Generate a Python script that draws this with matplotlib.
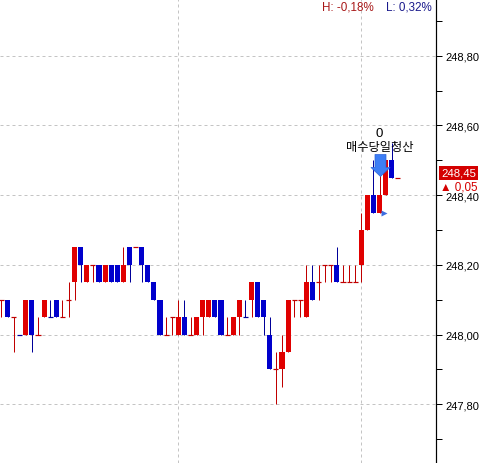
import matplotlib
matplotlib.use("Agg")
import matplotlib.pyplot as plt
import numpy as np
from matplotlib.path import Path

# ---------------- data ----------------
opens = [248.10, 248.10, 248.05, 248.00, 248.00, 248.10, 248.00, 248.05, 248.05, 248.10,
         248.05, 248.10, 248.15, 248.25, 248.15, 248.20, 248.20, 248.15, 248.20, 248.20,
         248.15, 248.25, 248.25, 248.25, 248.20, 248.15, 248.10, 248.00, 248.05, 248.00,
         248.05, 248.00, 248.00, 248.05, 248.05, 248.10, 248.10, 248.00, 248.00, 248.05,
         248.05, 248.10, 248.15, 248.10, 248.00, 247.90, 247.90, 247.95, 248.10, 248.10,
         248.05, 248.15, 248.15, 248.20, 248.20, 248.20, 248.15, 248.15, 248.15, 248.20,
         248.30, 248.40, 248.35, 248.40, 248.50, 248.45]
closes = [248.10, 248.05, 248.05, 248.00, 248.10, 248.00, 248.00, 248.10, 248.05, 248.05,
          248.05, 248.10, 248.25, 248.20, 248.20, 248.20, 248.15, 248.20, 248.15, 248.15,
          248.20, 248.20, 248.25, 248.20, 248.15, 248.10, 248.00, 248.00, 248.05, 248.05,
          248.00, 248.00, 248.05, 248.10, 248.10, 248.05, 248.00, 248.00, 248.05, 248.10,
          248.05, 248.15, 248.05, 248.05, 247.90, 247.90, 247.95, 248.10, 248.10, 248.10,
          248.15, 248.10, 248.15, 248.20, 248.20, 248.15, 248.15, 248.15, 248.15, 248.30,
          248.40, 248.35, 248.40, 248.50, 248.45, 248.45]
highs = [248.10, 248.10, 248.05, 248.00, 248.10, 248.10, 248.05, 248.10, 248.10, 248.10,
         248.10, 248.15, 248.25, 248.25, 248.20, 248.20, 248.20, 248.20, 248.20, 248.20,
         248.25, 248.25, 248.25, 248.25, 248.20, 248.15, 248.10, 248.05, 248.05, 248.10,
         248.10, 248.05, 248.05, 248.10, 248.10, 248.10, 248.10, 248.05, 248.05, 248.10,
         248.10, 248.15, 248.15, 248.10, 248.05, 247.95, 248.00, 248.10, 248.10, 248.10,
         248.20, 248.20, 248.20, 248.20, 248.20, 248.25, 248.20, 248.20, 248.20, 248.35,
         248.40, 248.50, 248.50, 248.50, 248.55, 248.45]
lows = [248.05, 248.05, 247.95, 248.00, 248.00, 247.95, 248.00, 248.05, 248.05, 248.05,
        248.05, 248.05, 248.10, 248.15, 248.15, 248.15, 248.15, 248.15, 248.15, 248.15,
        248.15, 248.15, 248.25, 248.15, 248.15, 248.10, 248.00, 248.00, 248.00, 248.00,
        248.00, 248.00, 248.00, 248.00, 248.05, 248.05, 248.00, 248.00, 248.00, 248.00,
        248.05, 248.05, 248.05, 248.00, 247.90, 247.80, 247.85, 247.95, 248.05, 248.05,
        248.05, 248.10, 248.10, 248.15, 248.15, 248.15, 248.15, 248.15, 248.15, 248.15,
        248.30, 248.35, 248.35, 248.40, 248.45, 248.45]
doji_down = [3, 8, 40]          # unchanged bars drawn as down bars
grid_bars = [29, 59]            # session separators
signal_bar = 62
signal_price = 248.486
signal_count = "0"
signal_label = "매수당일청산"
mark_bar = 62.75
mark_price = 248.35
last_price = "248,45"
last_change = "0,05"
high_text = "H: -0,18%"
low_text = "L: 0,32%"
yticks_major = [247.80, 248.00, 248.20, 248.40, 248.60, 248.80]
yticks_minor = [247.70, 247.90, 248.10, 248.30, 248.50, 248.70, 248.90]

# ---------------- style ----------------
RED = "#e00000"
RED_W = "#c00000"
BLUE = "#0000cc"
BLUE_W = "#000099"
W, H = 484, 464
PX = 72 / 100.0

plt.rcParams['font.family'] = ['Liberation Sans', 'Noto Sans CJK KR', 'DejaVu Sans']

fig = plt.figure(figsize=(W / 100, H / 100), dpi=100)
fig.patch.set_facecolor("white")
ax = fig.add_axes([0, 0, 436 / W, 1])
ax.set_facecolor("white")

n = len(opens)
x = np.arange(n)
o = np.array(opens); c = np.array(closes); h = np.array(highs); l = np.array(lows)
up = c > o
doji = c == o
colors = []
wcolors = []
for i in range(n):
    if up[i] or (doji[i] and i not in doji_down):
        colors.append(RED); wcolors.append(RED_W)
    else:
        colors.append(BLUE); wcolors.append(BLUE_W)

bw = 0.82
# grid
for yv in yticks_major:
    ax.axhline(yv, color="#c4c4c4", lw=PX, ls=(0, (3, 3)), zorder=0)
for gb in grid_bars:
    ax.axvline(gb, color="#c4c4c4", lw=PX, ls=(0, (3, 3)), zorder=0)

# wicks
ax.vlines(x, l, h, colors=wcolors, lw=PX, zorder=2)
# bodies
body = np.abs(c - o)
bottom = np.minimum(o, c)
mask = ~doji
ax.bar(x[mask], body[mask], bottom=bottom[mask], width=bw,
       color=[colors[i] for i in range(n) if mask[i]], edgecolor="none", zorder=3)
# dojis
ax.hlines(o[doji], x[doji] - bw / 2, x[doji] + bw / 2,
          colors=[wcolors[i] for i in range(n) if doji[i]], lw=PX * 1.2, zorder=3)

# signal arrow marker
arrow = Path([(-5.5, 11), (5.5, 11), (5.5, -2), (9.5, -2), (0, -11), (-9.5, -2), (-5.5, -2), (-5.5, 11)],
             [Path.MOVETO] + [Path.LINETO] * 6 + [Path.CLOSEPOLY])
ax.plot([signal_bar], [signal_price], marker=arrow, ms=22 * PX, color="#3d7ef5",
        mec="#2a62d8", mew=0.5, zorder=5, ls="none")
ax.plot([mark_bar], [mark_price], marker=">", ms=4, color="#3d6ee0", mec="none", zorder=5, ls="none")
ax.annotate(signal_count, (signal_bar, signal_price), xytext=(0, 32), textcoords="offset pixels",
            ha="center", va="center", fontsize=9.5, color="black", zorder=6)
ax.annotate(signal_label, (signal_bar, signal_price), xytext=(0, 19), textcoords="offset pixels",
            ha="center", va="center", fontsize=8.8, color="black", zorder=6,
            family=['Noto Sans CJK KR', 'DejaVu Sans'])

ax.set_xlim(-1.4 / 6.1, (436 - 1.4) / 6.1)
ax.set_ylim(247.6316, 248.9627)

for s in ["top", "left", "bottom"]:
    ax.spines[s].set_visible(False)
ax.spines["right"].set_linewidth(PX * 1.2)
ax.spines["right"].set_color("black")
ax.yaxis.tick_right()
ax.set_xticks([])
ax.set_yticks(yticks_major)
ax.set_yticks(yticks_minor, minor=True)
ax.set_yticklabels([f"{v:.2f}".replace(".", ",") for v in yticks_major])
ax.tick_params(axis="y", which="both", direction="out", length=6 * PX, width=PX, pad=3 * PX,
               labelsize=8.0, colors="black", right=True, left=False)

# header texts
fig.text(322 / W, 1 - 8 / H, high_text, color="#a81818", fontsize=8.4, ha="left", va="center")
fig.text(386 / W, 1 - 8 / H, low_text, color="#1a1a8c", fontsize=8.4, ha="left", va="center")

# last price box
fig.text(458.5 / W, 1 - 174 / H, last_price, color="white", fontsize=8.2, ha="center", va="center",
         bbox=dict(boxstyle="square,pad=0.18", fc="#d40000", ec="none"), zorder=10)
fig.text(478 / W, 1 - 187.5 / H, "▲ " + last_change, color="#d40000", fontsize=8.4, ha="right", va="center",
         zorder=10, family=['Liberation Sans', 'DejaVu Sans'],
         bbox=dict(boxstyle="square,pad=0.05", fc="white", ec="none"))

fig.savefig("out.png", dpi=100, facecolor="white")
